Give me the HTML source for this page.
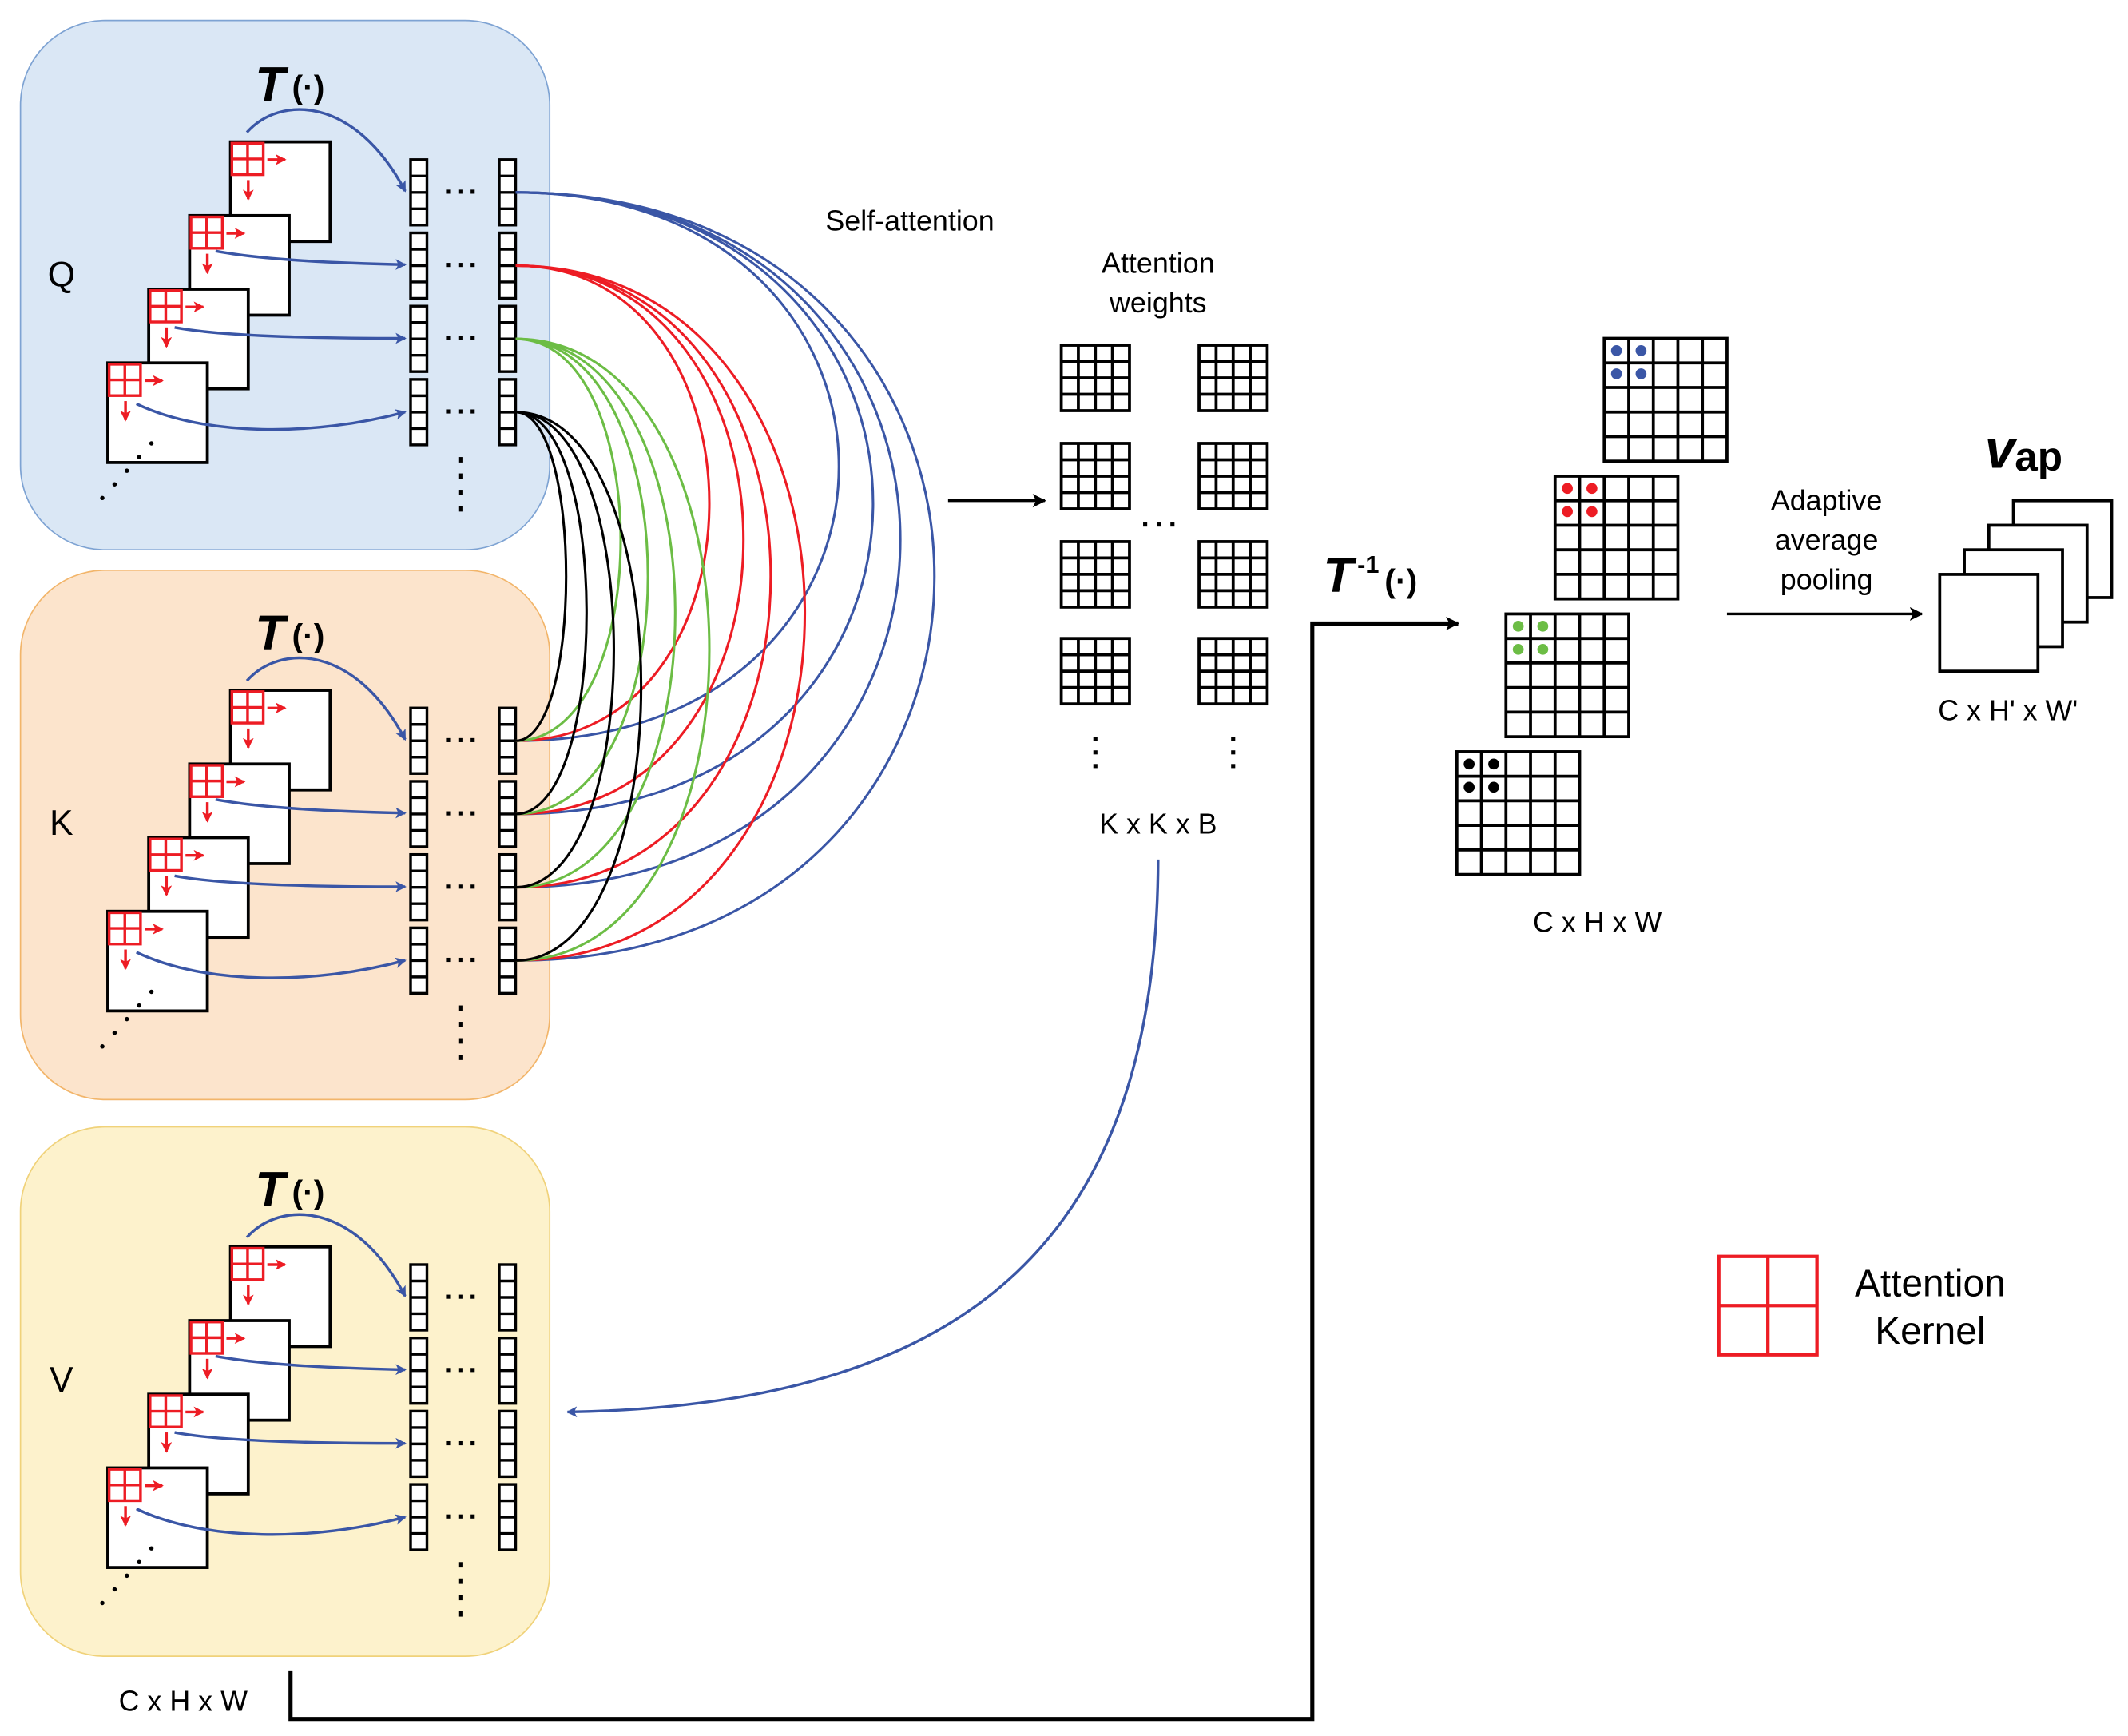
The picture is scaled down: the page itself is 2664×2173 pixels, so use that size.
<!DOCTYPE html>
<html><head><meta charset="utf-8"><style>
html,body{margin:0;padding:0;background:#fff;}
svg{display:block;}
text{font-family:"Liberation Sans",sans-serif;fill:#000;}
</style></head><body>
<svg id="s" xmlns="http://www.w3.org/2000/svg" width="2664" height="2173" viewBox="0 0 1560 1272.5" preserveAspectRatio="none">
<defs>
<marker id="ab" markerWidth="8" markerHeight="8" refX="7" refY="4" orient="auto" markerUnits="userSpaceOnUse"><path d="M0,0 L8,4 L0,8 L2,4 Z" fill="#3a56a6"/></marker>
<marker id="ak" markerWidth="10" markerHeight="10" refX="9" refY="5" orient="auto" markerUnits="userSpaceOnUse"><path d="M0,0 L10,5 L0,10 L2.5,5 Z" fill="#000"/></marker>
<marker id="ar" markerWidth="8" markerHeight="8" refX="7" refY="4" orient="auto" markerUnits="userSpaceOnUse"><path d="M0,0 L8,4 L0,8 L2,4 Z" fill="#ed1c24"/></marker>
</defs>
<g id="g"></g>
</svg>
<script>
var o='';
function T(x,y,s,t,extra){o+='<text x="'+x+'" y="'+y+'" font-size="'+s+'" text-anchor="middle" '+(extra||'')+'>'+t+'</text>';}
var pans=[[15,'#dae7f5','#7ea3d3'],[418,'#fce4cc','#f2b56a'],[826,'#fdf2cc','#f0d27a']];
pans.forEach(function(p){o+='<rect x="15" y="'+p[0]+'" width="388" height="388" rx="62" fill="'+p[1]+'" stroke="'+p[2]+'" stroke-width="1"/>';});
var labs=['Q','K','V'],offs=[0,402,810];
offs.forEach(function(d,i){
 T(45,210+d,26,labs[i]);
 o+='<text x="187" y="'+(74+d)+'" font-size="36" font-family="Liberation Serif" font-style="italic" font-weight="bold">T</text>';
 o+='<text x="214" y="'+(72+d)+'" font-size="24" font-weight="bold">(·)</text>';
 for(var k=0;k<4;k++){
  var x=169-30*k,y=104+54*k+d;
  o+='<rect x="'+x+'" y="'+y+'" width="73" height="73" fill="#fff" stroke="#000" stroke-width="2.2"/>';
  o+='<rect x="'+(x+1)+'" y="'+(y+1)+'" width="23" height="23" fill="none" stroke="#ed1c24" stroke-width="2"/>';
  o+='<path d="M'+(x+12.5)+' '+(y+1)+'V'+(y+24)+'M'+(x+1)+' '+(y+12.5)+'H'+(x+24)+'" stroke="#ed1c24" stroke-width="2"/>';
  o+='<path d="M'+(x+27)+' '+(y+13)+'H'+(x+40)+'" stroke="#ed1c24" stroke-width="2" marker-end="url(#ar)"/>';
  o+='<path d="M'+(x+13)+' '+(y+28)+'V'+(y+42)+'" stroke="#ed1c24" stroke-width="2" marker-end="url(#ar)"/>';
 }
 for(var j=0;j<5;j++){o+='<circle cx="'+(111-9*j)+'" cy="'+(325+10*j+d)+'" r="1.6" fill="#000"/>';}
 o+='<path d="M181 '+(97+d)+' C205 '+(70+d)+',260 '+(70+d)+',297 '+(140+d)+'" fill="none" stroke="#3a56a6" stroke-width="2" marker-end="url(#ab)"/>';
 o+='<path d="M158 '+(184+d)+' Q200 '+(192+d)+',297 '+(194+d)+'" fill="none" stroke="#3a56a6" stroke-width="2" marker-end="url(#ab)"/>';
 o+='<path d="M128 '+(240+d)+' Q170 '+(248+d)+',297 '+(248+d)+'" fill="none" stroke="#3a56a6" stroke-width="2" marker-end="url(#ab)"/>';
 o+='<path d="M100 '+(296+d)+' C150 '+(320+d)+',230 '+(320+d)+',297 '+(302+d)+'" fill="none" stroke="#3a56a6" stroke-width="2" marker-end="url(#ab)"/>';
 for(var r=0;r<4;r++){
  var y0=117+53.7*r+d;
  [301,366].forEach(function(cx){
   o+='<rect x="'+cx+'" y="'+y0+'" width="12" height="48" fill="#fff" stroke="#000" stroke-width="2"/>';
   for(var c=1;c<4;c++)o+='<line x1="'+cx+'" x2="'+(cx+12)+'" y1="'+(y0+12*c)+'" y2="'+(y0+12*c)+'" stroke="#000" stroke-width="2"/>';
  });
  for(var c=0;c<3;c++)o+='<rect x="'+(327+9*c)+'" y="'+(y0+22)+'" width="3" height="3" fill="#000"/>';
 }
 for(var c=0;c<4;c++)o+='<rect x="336" y="'+(335+12*c+d)+'" width="3" height="4" fill="#000"/>';
});
var cols=['#3a56a6','#ed1c24','#6cbd45','#000'];
var maxs=[[615,640,660,685],[520,545,565,590],[455,475,495,520],[415,430,450,470]];
for(var i=0;i<4;i++){var y1=141+53.7*i;
 for(var j=0;j<4;j++){var y2=543+53.7*j;var xc=378+(maxs[i][j]-378)/0.75;
  o+='<path d="M378 '+y1+' C'+xc+' '+y1+','+xc+' '+y2+',378 '+y2+'" fill="none" stroke="'+cols[i]+'" stroke-width="1.8"/>';}}
T(667,169,21,'Self-attention');
o+='<path d="M695 367H766" stroke="#000" stroke-width="2" marker-end="url(#ak)"/>';
T(849,200,21,'Attention');T(849,229,21,'weights');
function grid(x,y,w,h,n,sw){o+='<rect x="'+x+'" y="'+y+'" width="'+w+'" height="'+h+'" fill="#fff" stroke="#000" stroke-width="'+sw+'"/>';
 for(var c=1;c<n;c++){o+='<line x1="'+(x+w*c/n)+'" x2="'+(x+w*c/n)+'" y1="'+y+'" y2="'+(y+h)+'" stroke="#000" stroke-width="'+sw+'"/>';o+='<line y1="'+(y+h*c/n)+'" y2="'+(y+h*c/n)+'" x1="'+x+'" x2="'+(x+w)+'" stroke="#000" stroke-width="'+sw+'"/>';}}
[253,325,397,468].forEach(function(y){grid(778,y,50,48,4,2.2);grid(879,y,50,48,4,2.2);});
for(var c=0;c<3;c++)o+='<rect x="'+(838+10*c)+'" y="'+383+'" width="3" height="3" fill="#000"/>';
[803,904].forEach(function(x){for(var c=0;c<3;c++)o+='<rect x="'+(x-1.5)+'" y="'+(540+10*c)+'" width="3" height="3" fill="#000"/>';});
T(849,611,21,'K x K x B');
o+='<path d="M849 630 C848 900,720 1030,416 1035" fill="none" stroke="#3a56a6" stroke-width="2" marker-end="url(#ab)"/>';
o+='<text x="87" y="1254" font-size="21">C x H x W</text>';
o+='<path d="M213 1225V1260H962V457H1069" fill="none" stroke="#000" stroke-width="3" marker-end="url(#ak)"/>';
o+='<text x="970" y="434" font-size="36" font-style="italic" font-weight="bold" font-family="Liberation Serif">T</text>';
o+='<text x="995" y="420" font-size="18" font-weight="bold">-1</text><text x="1015" y="434" font-size="24" font-weight="bold">(·)</text>';
var fm=[[1176,248,'#3a56a6'],[1140,349,'#ed1c24'],[1104,450,'#6cbd45'],[1068,551,'#000']];
fm.forEach(function(f){grid(f[0],f[1],90,90,5,2.2);for(var a=0;a<2;a++)for(var b=0;b<2;b++)o+='<circle cx="'+(f[0]+9+18*a)+'" cy="'+(f[1]+9+17*b)+'" r="4" fill="'+f[2]+'"/>';});
T(1171,683,21,'C x H x W');
T(1339,374,21,'Adaptive');T(1339,403,21,'average');T(1339,432,21,'pooling');
o+='<path d="M1266 450H1409" stroke="#000" stroke-width="2" marker-end="url(#ak)"/>';
for(var k=3;k>=0;k--){o+='<rect x="'+(1422+18*k)+'" y="'+(421-18*k)+'" width="72" height="71" fill="#fff" stroke="#000" stroke-width="2.2"/>';}
o+='<text x="1455" y="343" font-size="40" font-style="italic" font-weight="bold" font-family="Liberation Serif">v</text><text x="1477" y="345" font-size="30" font-weight="bold">ap</text>';
T(1472,528,21,"C x H' x W'");
o+='<rect x="1260" y="921" width="72" height="72" fill="none" stroke="#ed1c24" stroke-width="2.5"/><path d="M1296 921V993M1260 957H1332" stroke="#ed1c24" stroke-width="2.5"/>';
T(1415,950,28,'Attention');T(1415,985,28,'Kernel');
document.getElementById('g').innerHTML=o;
</script>
</body></html>
